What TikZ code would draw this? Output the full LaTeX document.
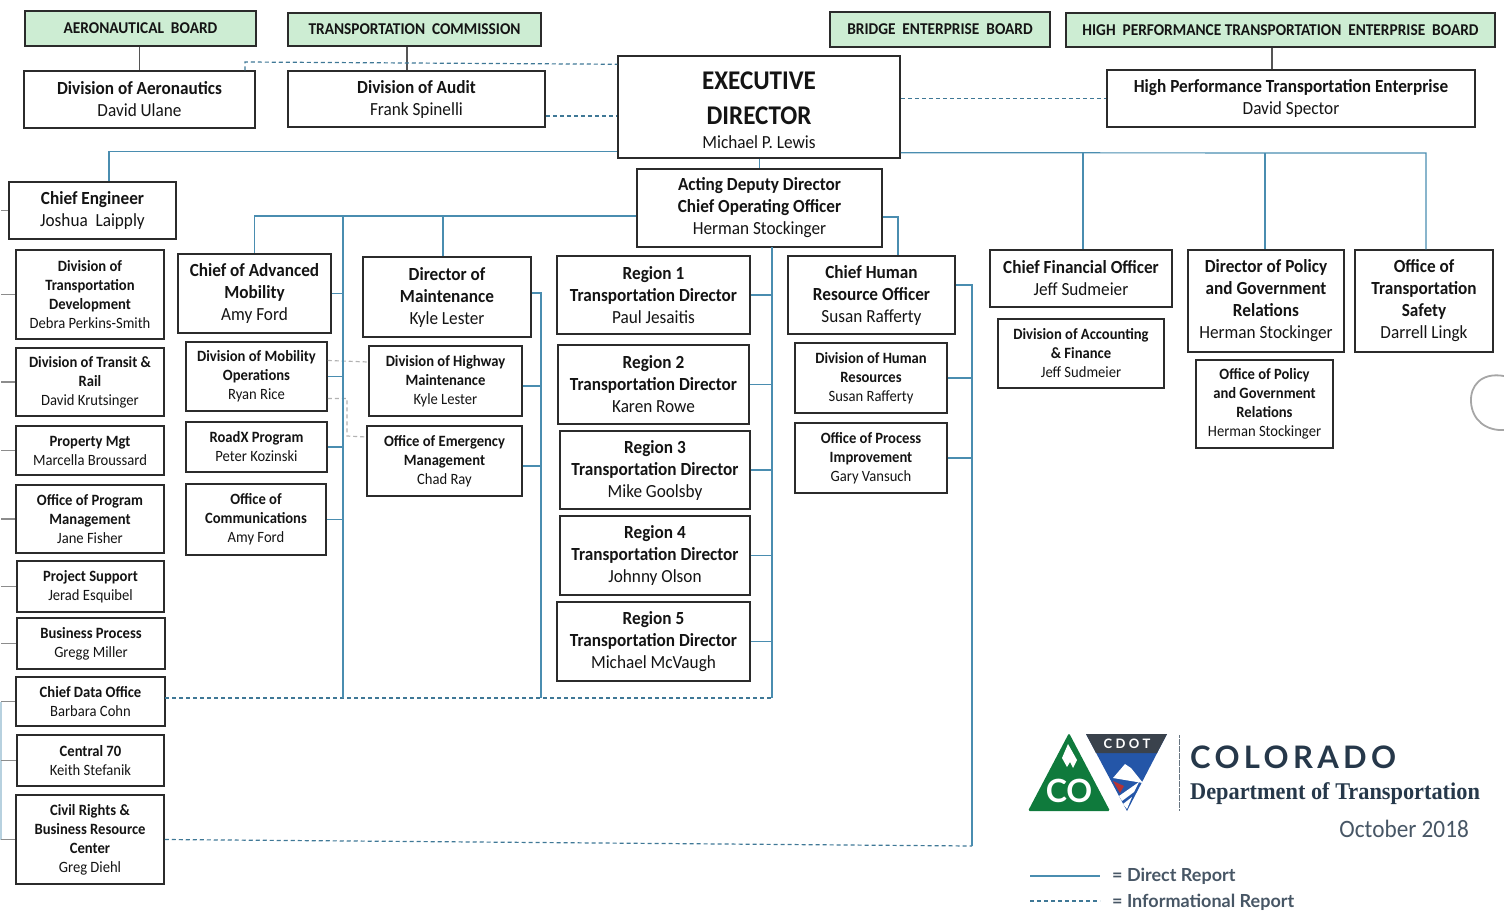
\documentclass[tikz,border=0pt]{standalone}
\usepackage{fontspec}
\setmainfont[FakeStretch=0.93]{Carlito}
\newfontfamily\logofont{Lato}
\newfontfamily\slabfont[FakeStretch=0.93]{Liberation Serif}
\usetikzlibrary{calc}
\definecolor{boardgreen}{HTML}{CDEDD3}
\definecolor{linkblue}{HTML}{4A8DB0}
\definecolor{boxline}{HTML}{2B2B2B}
\definecolor{logodark}{HTML}{26384A}
\definecolor{logogreen}{HTML}{0F7A3C}
\definecolor{logoblue}{HTML}{2456A8}
\definecolor{logoband}{HTML}{3A424C}
\tikzset{
    orgbox/.style={draw=boxline,line width=1.5pt,fill=white,inner sep=0pt,align=center,text=black!92},
    bigbox/.style={orgbox,font=\fontsize{18.5}{22}\selectfont},
    smallbox/.style={orgbox,font=\fontsize{15.7}{19}\selectfont},
    execbox/.style={orgbox,font=\fontsize{27}{35}\selectfont\bfseries},
    boardbox/.style={orgbox,fill=boardgreen,font=\fontsize{16.5}{18}\selectfont\bfseries},
    direct/.style={draw=linkblue,line width=1.2pt},
    inform/.style={draw=linkblue!85!black,line width=1.2pt,dash pattern=on 4pt off 3pt},
    topdark/.style={draw=boxline!80,line width=1.2pt},
    tick/.style={draw=black!45,line width=1.2pt},
}
\begin{document}
\begin{tikzpicture}[x=1pt,y=-1pt]
    \useasboundingbox (0,0) rectangle (1504,911);
    %% Boards
    \node[boardbox,minimum width=231,minimum height=35] (aeroboard) at (140.5,28.5) {AERONAUTICAL\ \ BOARD};
    \node[boardbox,minimum width=253,minimum height=33] (commission) at (414.5,29.5) {TRANSPORTATION\ \ COMMISSION};
    \node[boardbox,minimum width=220,minimum height=35] (bridgeboard) at (940,29.5) {BRIDGE\ \ ENTERPRISE\ \ BOARD};
    \node[boardbox,minimum width=429,minimum height=34] (hpteboard) at (1280.5,30) {HIGH\ \ PERFORMANCE\ TRANSPORTATION\ \ ENTERPRISE\ \ BOARD};
    %% Top row
    \node[bigbox,minimum width=231,minimum height=57] (aero) at (139.5,99.5) {\textbf{Division of Aeronautics}\\David Ulane};
    \node[bigbox,minimum width=257,minimum height=56] (audit) at (416.5,99) {\textbf{Division of Audit}\\Frank Spinelli};
    \node[execbox,minimum width=282,minimum height=102] (exec) at (759,107) {\rule{0pt}{24pt}EXECUTIVE\\DIRECTOR\\[-11pt]{\fontsize{18.5}{22}\selectfont\mdseries Michael P. Lewis}};
    \node[bigbox,minimum width=368,minimum height=57] (hpte) at (1291,98.5) {\textbf{High Performance Transportation Enterprise}\\David Spector};
    %% Second level
    \node[bigbox,minimum width=167,minimum height=57] (engineer) at (92.5,210.5) {\textbf{Chief Engineer}\\Joshua\ \ Laipply};
    \node[bigbox,minimum width=245,minimum height=78] (deputy) at (759.5,208) {\textbf{Acting Deputy Director}\\\textbf{Chief Operating Officer}\\Herman Stockinger};
    %% Engineer column
    \node[smallbox,minimum width=148,minimum height=89] (devel) at (90,294.5) {\textbf{Division of}\\\textbf{Transportation}\\\textbf{Development}\\Debra Perkins-Smith};
    \node[smallbox,minimum width=148,minimum height=68] (transit) at (90,382) {\textbf{Division of Transit \&}\\\textbf{Rail}\\David Krutsinger};
    \node[smallbox,minimum width=148,minimum height=49] (property) at (90,450.5) {\textbf{Property Mgt}\\Marcella Broussard};
    \node[smallbox,minimum width=148,minimum height=68] (program) at (90,519) {\textbf{Office of Program}\\\textbf{Management}\\Jane Fisher};
    \node[smallbox,minimum width=147,minimum height=51] (project) at (90.5,586.5) {\textbf{Project Support}\\Jerad Esquibel};
    \node[smallbox,minimum width=148,minimum height=51] (process) at (91,643.5) {\textbf{Business Process}\\Gregg Miller};
    \node[smallbox,minimum width=149,minimum height=49] (data) at (90.5,701.5) {\textbf{Chief Data Office}\\Barbara Cohn};
    \node[smallbox,minimum width=147,minimum height=51] (central) at (90.5,760.5) {\textbf{Central\ 70}\\Keith Stefanik};
    \node[smallbox,minimum width=148,minimum height=89] (civil) at (90,839.5) {\textbf{Civil Rights \&}\\\textbf{Business Resource}\\\textbf{Center}\\Greg Diehl};
    %% Advanced mobility column
    \node[bigbox,minimum width=153,minimum height=79] (mobility) at (254.5,293.5) {\textbf{Chief of Advanced}\\\textbf{Mobility}\\Amy Ford};
    \node[smallbox,minimum width=141,minimum height=69] (mobops) at (256.5,376.5) {\textbf{Division of Mobility}\\\textbf{Operations}\\Ryan Rice};
    \node[smallbox,minimum width=141,minimum height=50] (roadx) at (256.5,447) {\textbf{RoadX Program}\\Peter Kozinski};
    \node[smallbox,minimum width=140,minimum height=71] (comms) at (256,519.5) {\textbf{Office of}\\\textbf{Communications}\\Amy Ford};
    %% Maintenance column
    \node[bigbox,minimum width=168,minimum height=80] (maint) at (447,297) {\textbf{Director of}\\\textbf{Maintenance}\\Kyle\ Lester};
    \node[smallbox,minimum width=153,minimum height=70] (highway) at (445.5,381) {\textbf{Division of Highway}\\\textbf{Maintenance}\\Kyle Lester};
    \node[smallbox,minimum width=155,minimum height=70] (emergency) at (444.5,461) {\textbf{Office of Emergency}\\\textbf{Management}\\Chad Ray};
    %% Regions
    \node[bigbox,minimum width=193,minimum height=78] (regiona) at (653.5,295) {\textbf{Region 1}\\\textbf{Transportation Director}\\Paul Jesaitis};
    \node[bigbox,minimum width=191,minimum height=79] (regionb) at (653.5,384.5) {\textbf{Region 2}\\\textbf{Transportation Director}\\Karen Rowe};
    \node[bigbox,minimum width=190,minimum height=78] (regionc) at (655,470) {\textbf{Region 3}\\\textbf{Transportation Director}\\Mike Goolsby};
    \node[bigbox,minimum width=190,minimum height=79] (regiond) at (655,555.5) {\textbf{Region 4}\\\textbf{Transportation Director}\\Johnny Olson};
    \node[bigbox,minimum width=193,minimum height=79] (regione) at (653.5,641.5) {\textbf{Region 5}\\\textbf{Transportation Director}\\Michael McVaugh};
    %% Human resources column
    \node[bigbox,minimum width=167,minimum height=78] (hr) at (871.5,295) {\textbf{Chief Human}\\\textbf{Resource Officer}\\Susan Rafferty};
    \node[smallbox,minimum width=152,minimum height=70] (humanres) at (871,378) {\textbf{Division of Human}\\\textbf{Resources}\\Susan Rafferty};
    \node[smallbox,minimum width=152,minimum height=70] (improve) at (871,458) {\textbf{Office of Process}\\\textbf{Improvement}\\Gary Vansuch};
    %% Right columns
    \node[bigbox,minimum width=182,minimum height=57] (cfo) at (1081,278.5) {\textbf{Chief Financial Officer}\\Jeff Sudmeier};
    \node[smallbox,minimum width=166,minimum height=69] (finance) at (1081,353.5) {\textbf{Division of Accounting}\\\textbf{\& Finance}\\Jeff Sudmeier};
    \node[bigbox,minimum width=156,minimum height=102] (policy) at (1266,301) {\textbf{Director of Policy}\\\textbf{and Government}\\\textbf{Relations}\\Herman Stockinger};
    \node[smallbox,minimum width=137,minimum height=88] (policyoff) at (1264.5,404) {\textbf{Office of Policy}\\\textbf{and Government}\\\textbf{Relations}\\Herman Stockinger};
    \node[bigbox,minimum width=138,minimum height=102] (safety) at (1424,301) {\textbf{Office of}\\\textbf{Transportation}\\\textbf{Safety}\\Darrell Lingk};
    %% Trunks
    \coordinate (trunkleft) at (1,205);
    \coordinate (trunkadv) at (343,216);
    \coordinate (trunkmaint) at (541,293);
    \coordinate (trunkreg) at (772,247);
    \coordinate (trunkhr) at (972,285);
    \coordinate (infoend) at (972,846);
    \coordinate (rowend) at (1426,153);
    \coordinate (pointaero) at (245,62);
    \coordinate (dataline) at (165,698);
    %% Board links
    \draw[topdark] (aeroboard.south -| aero) -- (aero);
    \draw[topdark] (commission.south -| 407,0) -- (audit.north -| 407,0);
    \draw[topdark] (hpteboard.south -| 1272,0) -- (hpte.north -| 1272,0);
    %% Informational links
    \draw[inform] (aero.north -| pointaero) -- (pointaero) -- ([yshift=-9pt]exec.north west);
    \draw[inform] ([yshift=-17pt]audit.east) -- ([yshift=-17pt]audit.east -| exec.west);
    \draw[inform] (exec.east |- hpte.west) -- (hpte.west);
    \draw[inform] (dataline) -- (dataline -| trunkreg);
    \draw[inform] (civil.east) -- (infoend);
    \draw[inform,draw=black!30] ([yshift=16pt]mobops.east) -- ([yshift=19pt]highway.west);
    \draw[inform,draw=black!30] ([yshift=-22pt]mobops.east) -| (347,436) -- ([yshift=24pt]emergency.west);
    %% Direct links
    \draw[direct] (exec.south -| deputy.north) -- (deputy.north);
    \draw[direct] ([yshift=7pt]exec.south west) -| (engineer.north -| 109,0);
    \draw[direct] ([yshift=6pt]exec.south east) -- (rowend) -- (rowend |- safety.north);
    \foreach \n/\x in {cfo/1083,policy/1265}
        \draw[direct] (\x,153) -- (\n.north -| \x,0);
    \draw[direct] ([yshift=-8pt]deputy.west) -| (mobility.north);
    \draw[direct] (trunkadv) -- (trunkadv |- dataline);
    \draw[direct] (443,216) -- (maint.north -| 443,0);
    \draw[direct] ([yshift=-9pt]deputy.east) -| (hr.north -| 898,0);
    \draw[direct] (trunkreg) -- (trunkreg |- dataline);
    \draw[direct] ([yshift=4pt]maint.east) -| (trunkmaint |- dataline);
    \draw[direct] ([yshift=10pt]hr.east) -- (trunkhr) -- (infoend);
    \foreach \n in {mobility,mobops,roadx,comms}
        \draw[direct] (\n.east) -- (\n.east -| trunkadv);
    \foreach \n in {highway,emergency}
        \draw[direct] ([yshift=-5pt]\n.east) -- ([yshift=-5pt]\n.east -| trunkmaint);
    \foreach \n in {regiona,regionb,regionc,regiond,regione}
        \draw[direct] (\n.east) -- (\n.east -| trunkreg);
    \foreach \n in {humanres,improve}
        \draw[direct] (\n.east) -- (\n.east -| trunkhr);
    %% Left trunk
    \draw[direct,draw=linkblue!40] (data.west -| trunkleft) -- (civil.west -| trunkleft);
    \foreach \n in {engineer,devel,transit,property,program,project,process,data,central,civil}
        \draw[tick] (\n.west -| trunkleft) -- (\n.west);
    %% Logo
    \fill[logogreen,rounded corners=1.5pt] (1069,733) -- (1110,811) -- (1028,811) -- cycle;
    \fill[white] (1062,758) -- (1068,744) -- (1077,760) -- (1073,768) -- (1070,762) -- (1067,767) -- cycle;
    \node[text=white,font=\logofont\fontsize{32}{32}\selectfont\bfseries,inner sep=0pt] (logoco) at (1069,791) {CO};
    \fill[logoblue] (1086,734) -- (1167,734) -- (1127,811) -- cycle;
    \fill[logoband] (1086,734) -- (1167,734) -- (1157,753) -- (1096,753) -- cycle;
    \node[text=white,font=\logofont\fontsize{13}{13}\selectfont\bfseries\addfontfeature{LetterSpace=26},inner sep=0pt] (logocdot) at (1127,744) {CDOT};
    \fill[white] (1113,778) -- (1125,764) -- (1131,768) -- (1143,783) -- cycle;
    \fill[red!65!black!80] (1113,781) -- (1124,786) -- (1120,793) -- cycle;
    \fill[white] (1119,796) -- (1139,782) -- (1134,792) -- (1122,801) -- cycle;
    \fill[white] (1123,804) -- (1132,797) -- (1127,809) -- cycle;
    \draw[draw=logodark!70,line width=1pt,dash pattern=on 3pt off 0.5pt] (1179,735) -- (1179,811);
    %% Logo text
    \node[anchor=west,inner sep=0pt,text=logodark,font=\logofont\fontsize{31}{31}\selectfont\bfseries\addfontfeature{LetterSpace=14}] (colorado) at (1190,757) {COLORADO};
    \node[anchor=west,inner sep=0pt,text=logodark,font=\slabfont\fontsize{24}{24}\selectfont\bfseries] (cdot) at (1190,794) {Department of Transportation};
    \node[anchor=east,inner sep=0pt,text=logodark!85,font=\fontsize{25}{25}\selectfont] (month) at (1469,829) {October 2018};
    %% Legend
    \node[anchor=west,inner sep=0pt,text=logodark!85,font=\logofont\fontsize{18}{18}\selectfont\bfseries] (legenda) at (1112,876) {= Direct Report};
    \node[anchor=west,inner sep=0pt,text=logodark!85,font=\logofont\fontsize{18}{18}\selectfont\bfseries] (legendb) at (1112,902) {= Informational Report};
    \coordinate (lega) at (1030,876);
    \coordinate (legb) at (1030,901);
    \draw[direct] (lega) -- (1100,876);
    \draw[inform] (legb) -- (1100,901);
    %% Seal at the edge
    \draw[black!35,line width=1.8pt] (1504,376) .. controls (1481,372) and (1470,386) .. (1471,402) .. controls (1472,420) and (1486,431) .. (1504,430);
\end{tikzpicture}
\end{document}
